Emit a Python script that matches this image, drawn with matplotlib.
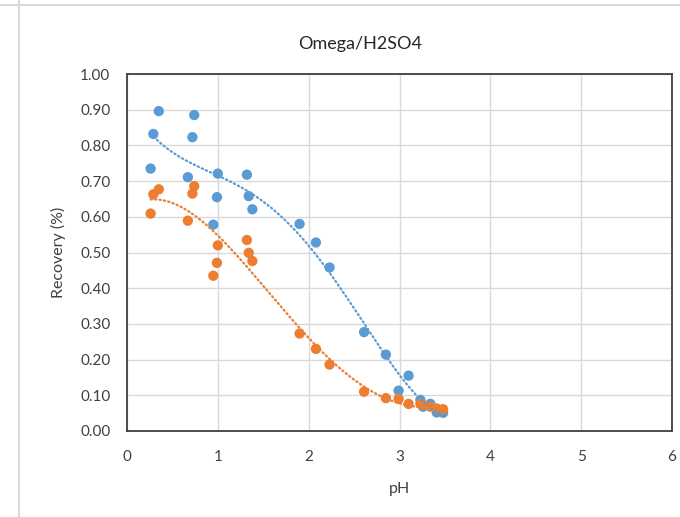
import numpy as np
import matplotlib
matplotlib.use('Agg')
import matplotlib.pyplot as plt
from matplotlib.lines import Line2D

plt.rcParams['font.family'] = ['Lato', 'DejaVu Sans']

# pH values shared by both series
ph = [0.26, 0.29, 0.35, 0.67, 0.72, 0.74, 0.95, 0.99, 1.00, 1.32, 1.34, 1.38,
      1.90, 2.08, 2.23, 2.61, 2.85, 2.99, 3.10, 3.23, 3.26, 3.34, 3.41, 3.48]
# recovery, blue series
rec_blue = [0.735, 0.832, 0.896, 0.711, 0.823, 0.885, 0.578, 0.655, 0.721, 0.718, 0.658, 0.621,
            0.580, 0.528, 0.458, 0.277, 0.214, 0.113, 0.155, 0.087, 0.068, 0.076, 0.052, 0.051]
# recovery, orange series
rec_orange = [0.609, 0.663, 0.677, 0.589, 0.665, 0.686, 0.435, 0.471, 0.520, 0.535, 0.499, 0.476,
              0.273, 0.230, 0.186, 0.110, 0.092, 0.090, 0.076, 0.076, 0.073, 0.068, 0.063, 0.061]

blue = '#5B9BD5'
orange = '#ED7D31'
txt = '#404040'

fig = plt.figure(figsize=(6.8, 5.17), dpi=100)

# spreadsheet cell borders behind the chart
fig.add_artist(Line2D([0, 1], [1 - 5/517, 1 - 5/517], color='#D9D9D9', lw=1.5))
fig.add_artist(Line2D([18.5/680, 18.5/680], [0, 1], color='#D9D9D9', lw=1.5))

ax = fig.add_axes([127/680, 1 - 431/517, 545/680, 357/517])

x = np.array(ph)
for vals, c in [(rec_blue, blue), (rec_orange, orange)]:
    ax.scatter(x, vals, s=55, color=c, edgecolors='none', zorder=3)
    # polynomial trendline like the spreadsheet one
    p = np.polyfit(x, vals, 4)
    xs = np.linspace(x.min(), x.max(), 200)
    ax.plot(xs, np.polyval(p, xs), color=c, lw=1.6, linestyle=(0, (0.6, 1.4)),
            dash_capstyle='round', zorder=4)

ax.set_xlim(0, 6)
ax.set_ylim(0, 1)
ax.set_xticks(range(7))
ax.set_yticks(np.arange(0, 1.01, 0.1))
ax.set_yticklabels([f'{v:.2f}' for v in np.arange(0, 1.01, 0.1)])
ax.grid(True, color='#D9D9D9', lw=1.0)
ax.set_axisbelow(True)
ax.tick_params(length=0, labelsize=11, colors=txt)
ax.tick_params(axis='x', pad=14)
ax.tick_params(axis='y', pad=12)
for s in ax.spines.values():
    s.set_color('#404040')
    s.set_linewidth(1.3)

ax.set_xlabel('pH', fontsize=11.5, color=txt, labelpad=13)
ax.set_ylabel('Recovery (%)', fontsize=11.5, color=txt, labelpad=10)
fig.text(360/680, 1 - 44/517, 'Omega/H2SO4', fontsize=13, color='#262626',
         ha='center', va='center')

fig.savefig('out.png', dpi=100, facecolor='white')
